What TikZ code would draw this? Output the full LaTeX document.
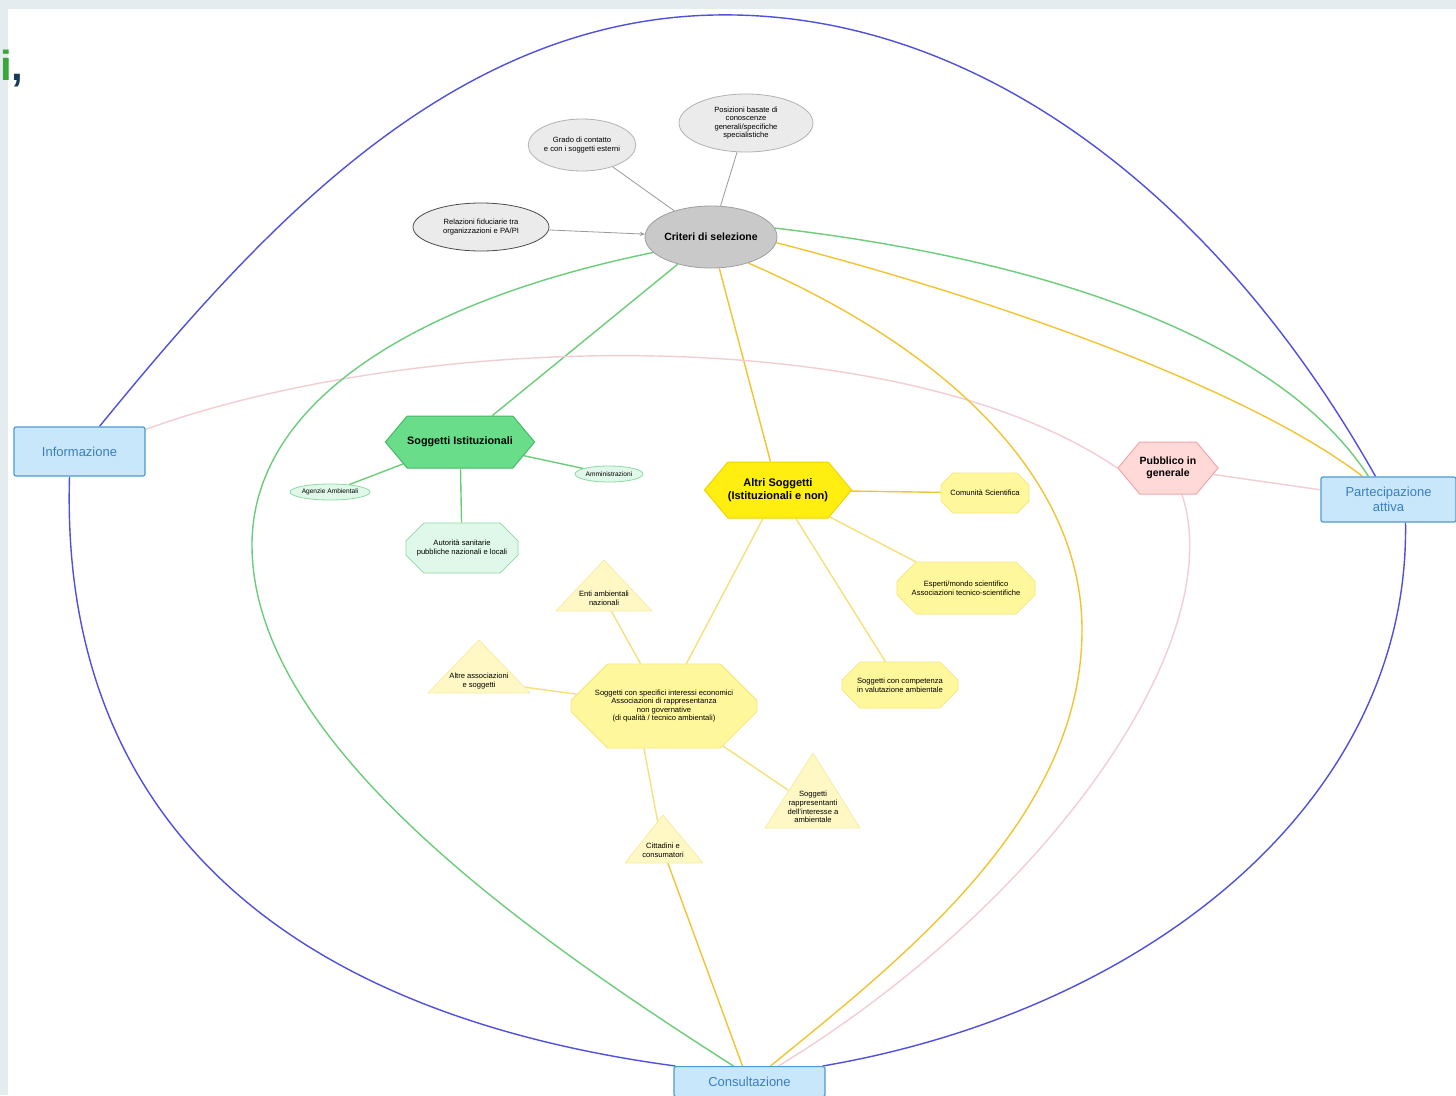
\documentclass[tikz,border=0pt]{standalone}
\usepackage{fontspec}
\setmainfont{Liberation Sans}
\usetikzlibrary{shapes.misc,shapes.symbols,shapes.geometric,backgrounds,calc,arrows.meta}
\definecolor{bgtex}{HTML}{E4ECEF}
\definecolor{igreen}{HTML}{3AA63A}
\definecolor{inavy}{HTML}{173A5A}
\definecolor{blueline}{HTML}{4F4FE0}
\definecolor{greenline}{HTML}{6CCC7A}
\definecolor{goldline}{HTML}{F2C430}
\definecolor{lyline}{HTML}{F6E07A}
\definecolor{pinkline}{HTML}{F2CDD2}
\definecolor{greyline}{HTML}{9A9A9A}
\definecolor{boxfill}{HTML}{C8E7FA}
\definecolor{boxdraw}{HTML}{4E9AD2}
\definecolor{boxtext}{HTML}{3A7EC0}
\definecolor{hexgreen}{HTML}{6ADD8A}
\definecolor{hexgreendraw}{HTML}{44B864}
\definecolor{lgfill}{HTML}{E0F8E9}
\definecolor{lgdraw}{HTML}{8ED9A4}
\definecolor{hexyellow}{HTML}{FFEE10}
\definecolor{hexyellowdraw}{HTML}{EFD400}
\definecolor{lyfill}{HTML}{FFF79C}
\definecolor{lydraw}{HTML}{F4E67E}
\definecolor{trifill}{HTML}{FFF8C4}
\definecolor{tridraw}{HTML}{F5EDA6}
\definecolor{pinkfill}{HTML}{FFD8D8}
\definecolor{pinkdraw}{HTML}{F0A8A8}
\tikzset{
  small/.style={font=\fontsize{7.6}{8.6}\selectfont, align=center},
  tiny/.style={font=\fontsize{6.6}{7.6}\selectfont, align=center},
  bigbox/.style={rectangle, rounded corners=2pt, fill=boxfill, draw=boxdraw, line width=1.2pt,
    text=boxtext, font=\fontsize{13}{15.5}\selectfont, align=center},
  critnode/.style={ellipse, fill=black!21, draw=black!38, line width=0.8pt,
    minimum width=126pt, minimum height=62pt, inner sep=0pt, font=\bfseries\fontsize{10.5}{12}\selectfont},
  greyell/.style={ellipse, fill=black!8, draw=black!30, line width=0.8pt, inner sep=0pt, small},
  hexg/.style={signal, signal to=west and east, signal pointer angle=100, fill=hexgreen,
    draw=hexgreendraw, line width=1pt, inner sep=0pt, font=\bfseries\fontsize{10.8}{12.5}\selectfont, align=center},
  hexy/.style={signal, signal to=west and east, signal pointer angle=100, fill=hexyellow,
    draw=hexyellowdraw, line width=1pt, inner sep=0pt, font=\bfseries\fontsize{11}{13}\selectfont, align=center},
  hexp/.style={signal, signal to=west and east, signal pointer angle=100, fill=pinkfill,
    draw=pinkdraw, line width=1pt, inner sep=0pt, font=\bfseries\fontsize{10.5}{12.5}\selectfont, align=center},
  lgell/.style={ellipse, fill=lgfill, draw=lgdraw, line width=0.8pt, inner sep=0pt, tiny},
  lgoct/.style={chamfered rectangle, fill=lgfill, draw=lgdraw, line width=0.8pt, inner sep=0pt, small},
  lyoct/.style={chamfered rectangle, fill=lyfill, draw=lydraw, line width=0.8pt, inner sep=0pt, small},
  tri/.style={fill=trifill, draw=tridraw, line width=0.8pt, line join=round},
  conn/.style={line width=1.4pt},
}
\begin{document}
\begin{tikzpicture}[x=1pt,y=-1pt]
\useasboundingbox (0,0) rectangle (1456,1095);
\begin{pgfonlayer}{background}
\fill[bgtex] (0,0) rectangle (1456,1095);
\fill[white] (8,9) rectangle (1456,1095);
\end{pgfonlayer}

\node[anchor=base west, inner sep=0pt, font=\bfseries\fontsize{42}{42}\selectfont] (logo) at (0,80) {\textcolor{igreen}{i}\textcolor{inavy}{,}};

% criteria
\node[critnode] (crit) at (711,237) {Criteri di selezione};
\node[greyell, draw=black!70, minimum width=136pt, minimum height=48pt] (rel) at (481,227) {Relazioni fiduciarie tra\\organizzazioni e PA/PI};
\node[greyell, minimum width=104pt, minimum height=52pt] (grado) at (582,145) {Grado di contatto\\e con i soggetti esterni};
\node[greyell, minimum width=134pt, minimum height=58pt] (pos) at (746,123) {Posizioni basate di\\conoscenze\\generali/specifiche\\specialistiche};

% institutional
\node[hexg, minimum width=148pt, minimum height=52pt] (sist) at (460,442) {Soggetti Istituzionali};
\node[lgell, minimum width=76pt, minimum height=16pt] (agen) at (330,492) {Agenzie Ambientali};
\node[lgell, minimum width=68pt, minimum height=16pt] (amm) at (609,474) {Amministrazioni};
\node[lgoct, chamfered rectangle xsep=20pt, chamfered rectangle ysep=10pt, minimum width=112pt, minimum height=50pt] (aut) at (462,548) {Autorità sanitarie\\pubbliche nazionali e locali};

% other subjects
\node[hexy, minimum width=146pt, minimum height=56pt] (altri) at (778,490) {Altri Soggetti\\(Istituzionali e non)};
\node[lyoct, chamfered rectangle xsep=16pt, chamfered rectangle ysep=9pt, minimum width=88pt, minimum height=40pt] (com) at (985,493) {Comunità Scientifica};
\node[lyoct, chamfered rectangle xsep=22pt, chamfered rectangle ysep=12pt, minimum width=138pt, minimum height=52pt] (esp) at (966,588) {Esperti/mondo scientifico\\Associazioni tecnico-scientifiche};
\node[lyoct, chamfered rectangle xsep=20pt, chamfered rectangle ysep=11pt, minimum width=116pt, minimum height=46pt] (comp) at (900,685) {Soggetti con competenza\\in valutazione ambientale};
\node[lyoct, chamfered rectangle xsep=42pt, chamfered rectangle ysep=20pt, minimum width=186pt, minimum height=84pt] (spec) at (664,706) {Soggetti con specifici interessi economici\\Associazioni di rappresentanza\\non governative\\(di qualità / tecnico ambientali)};

% triangles
\filldraw[tri] (604,560) -- (652,611) -- (556,611) -- cycle;
\node[small, inner sep=1pt] (tenti) at (604,598) {Enti ambientali\\nazionali};
\filldraw[tri] (479,640) -- (530,693) -- (428,693) -- cycle;
\node[small, inner sep=1pt] (taltre) at (479,681) {Altre associazioni\\e soggetti};
\filldraw[tri] (813,753) -- (860,828) -- (765,828) -- cycle;
\node[small, inner sep=1pt] (tsogg) at (813,807) {Soggetti\\rappresentanti\\dell'interesse a\\ambientale};
\filldraw[tri] (663,815) -- (703,863) -- (625,863) -- cycle;
\node[small, inner sep=1pt] (tcitt) at (663,850) {Cittadini e\\consumatori};

% public
\node[hexp, minimum width=96pt, minimum height=52pt] (pub) at (1168,468) {Pubblico in\\generale};

% boxes
\node[bigbox, minimum width=131pt, minimum height=49pt] (info) at (79.5,451.5) {Informazione};
\node[bigbox, minimum width=135pt, minimum height=45pt] (part) at (1388.5,499.5) {Partecipazione\\attiva};
\node[bigbox, minimum width=151pt, minimum height=30pt, anchor=north] (cons) at (749.5,1066) {Consultazione};

\begin{pgfonlayer}{background}
% grey criteria links
\draw[greyline, line width=0.8pt, -{Stealth[length=5pt,width=4pt]}] (rel) -- (crit);
\draw[greyline, line width=0.8pt] (grado) -- (crit);
\draw[greyline, line width=0.8pt] (pos) -- (crit);
% green
\draw[greenline, conn] (crit) -- (sist);
\draw[greenline, conn] (sist) -- (agen);
\draw[greenline, conn] (sist) -- (amm);
\draw[greenline, conn] (sist) -- (aut);
% yellow
\draw[goldline, conn] (crit) -- (altri);
\draw[goldline, conn] (altri) -- (com);
\draw[lyline, conn] (altri) -- (esp);
\draw[lyline, conn] (altri) -- (comp);
\draw[lyline, conn] (altri) -- (spec);
\draw[lyline, conn] (spec) -- (tenti);
\draw[lyline, conn] (spec) -- (taltre);
\draw[lyline, conn] (spec) -- (tsogg);
\draw[lyline, conn] ([xshift=-20pt]spec.south) -- (tcitt);
\draw[goldline, conn] (tcitt) -- ([xshift=-7pt]cons.north);
% blue arcs
\draw[blueline, conn] ([xshift=20pt]info.north) .. controls (260,230) and (450,20) .. (715,15)
   .. controls (980,10) and (1220,200) .. ([xshift=-13pt]part.north);
\draw[blueline, conn] ([xshift=-10pt]info.south) .. controls (60,800) and (260,1010) .. ([xshift=2pt]cons.north west);
\draw[blueline, conn] ([xshift=17pt]part.south) .. controls (1410,800) and (1150,1010) .. ([xshift=-3pt]cons.north east);
% pink arcs
\draw[pinkline, conn] ([yshift=-3pt]info.north east) .. controls (420,330) and (900,320) .. (pub.west);
\draw[pinkline, conn] (pub) -- (part);
\draw[pinkline, conn] ([xshift=14pt]pub.south) .. controls (1230,640) and (1050,900) .. ([xshift=29pt]cons.north);
% green arcs
\draw[greenline, conn] (crit.195) .. controls (420,300) and (252,400) .. (252,545)
   .. controls (252,740) and (520,930) .. ([xshift=-16pt]cons.north);
\draw[greenline, conn] (crit.8) .. controls (1050,260) and (1280,340) .. ([xshift=-20pt]part.north);
\draw[goldline, conn] (crit.-5) .. controls (1000,300) and (1250,390) .. ([xshift=-26pt]part.north);
\draw[goldline, conn] (crit.-35) .. controls (950,350) and (1082,480) .. (1082,630)
   .. controls (1082,820) and (900,960) .. ([xshift=21pt]cons.north);
\end{pgfonlayer}
\end{tikzpicture}
\end{document}
